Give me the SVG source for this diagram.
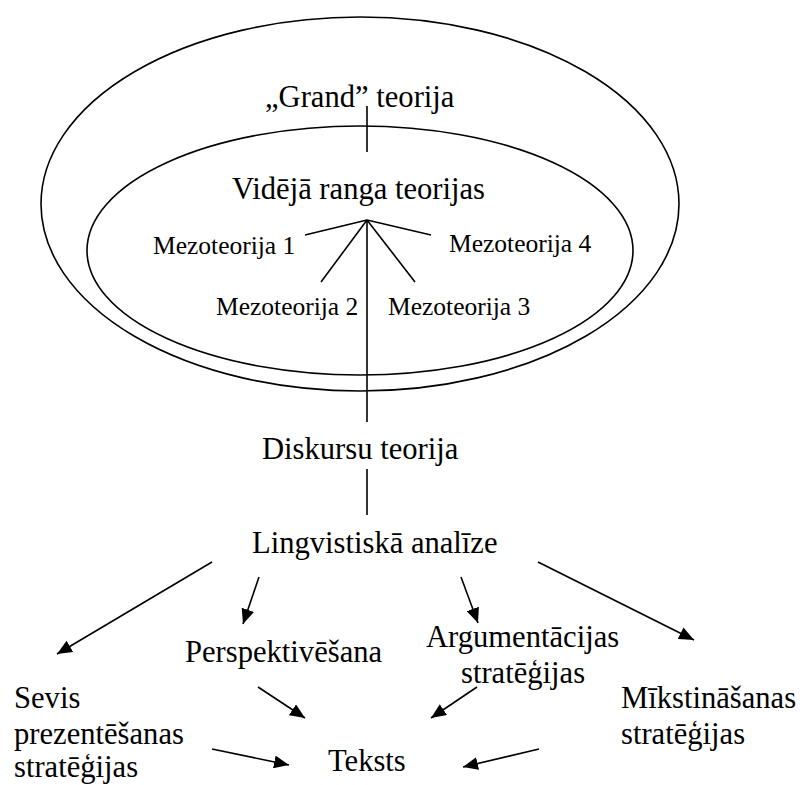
<svg xmlns="http://www.w3.org/2000/svg" width="800" height="785" viewBox="0 0 800 785">
  <defs>
    <marker id="arr" markerUnits="userSpaceOnUse" markerWidth="16" markerHeight="13" refX="15" refY="6.5" orient="auto">
      <path d="M0,0 L15,6.5 L0,13 z" fill="#000"/>
    </marker>
    <style>
      .t { font-family: "Liberation Serif", "Times New Roman", serif; fill: #000; }
      .big { font-size: 30.6px; }
      .small { font-size: 25.5px; }
      .ln { stroke: #000; stroke-width: 1.6; fill: none; }
      .ar { stroke: #000; stroke-width: 1.6; fill: none; marker-end: url(#arr); }
      .el { stroke: #000; stroke-width: 1.6; fill: none; }
    </style>
  </defs>
  <rect width="800" height="785" fill="#fff"/>

  <g id="grand-ellipse">
    <ellipse class="el" cx="360" cy="204" rx="319" ry="187"/>
  </g>
  <g id="middle-ellipse">
    <ellipse class="el" cx="360" cy="250.5" rx="273" ry="124.5"/>
  </g>

  <g id="connectors">
    <line class="ln" x1="367" y1="106" x2="367" y2="152"/>
    <line class="ln" x1="367" y1="220" x2="367" y2="422"/>
    <line class="ln" x1="367" y1="220" x2="305" y2="235"/>
    <line class="ln" x1="367" y1="220" x2="321" y2="282"/>
    <line class="ln" x1="367" y1="220" x2="431" y2="235"/>
    <line class="ln" x1="367" y1="220" x2="415" y2="282"/>
    <line class="ln" x1="367" y1="469" x2="367" y2="515"/>
    <line class="ar" x1="212" y1="562" x2="57" y2="654"/>
    <line class="ar" x1="259" y1="577" x2="243" y2="624"/>
    <line class="ar" x1="461" y1="577" x2="478" y2="623"/>
    <line class="ar" x1="538" y1="562" x2="694" y2="640"/>
    <line class="ar" x1="258" y1="687" x2="305" y2="718"/>
    <line class="ar" x1="477" y1="687" x2="431" y2="718"/>
    <line class="ar" x1="212" y1="749" x2="289" y2="765"/>
    <line class="ar" x1="539" y1="749" x2="463" y2="767"/>
  </g>

  <g id="grand">
    <text class="t big" x="265" y="107">„Grand” teorija</text>
  </g>
  <g id="videja">
    <text class="t big" x="232" y="199">Vidējā ranga teorijas</text>
  </g>
  <g id="mezo1">
    <text class="t small" x="153" y="254">Mezoteorija 1</text>
  </g>
  <g id="mezo4">
    <text class="t small" x="449" y="252">Mezoteorija 4</text>
  </g>
  <g id="mezo2">
    <text class="t small" x="216" y="315">Mezoteorija 2</text>
  </g>
  <g id="mezo3">
    <text class="t small" x="388" y="315">Mezoteorija 3</text>
  </g>
  <g id="diskursu">
    <text class="t big" x="262" y="459">Diskursu teorija</text>
  </g>
  <g id="lingvistiska">
    <text class="t big" x="252" y="553">Lingvistiskā analīze</text>
  </g>
  <g id="perspektivesana">
    <text class="t big" x="185" y="662">Perspektivēšana</text>
  </g>
  <g id="argumentacijas">
    <text class="t big" x="426" y="647">Argumentācijas</text>
    <text class="t big" x="461" y="683">stratēģijas</text>
  </g>
  <g id="sevis">
    <text class="t big" x="14" y="708">Sevis</text>
    <text class="t big" x="14" y="744">prezentēšanas</text>
    <text class="t big" x="14" y="777">stratēģijas</text>
  </g>
  <g id="mikstinasanas">
    <text class="t big" x="621" y="708">Mīkstināšanas</text>
    <text class="t big" x="621" y="744">stratēģijas</text>
  </g>
  <g id="teksts">
    <text class="t big" x="328" y="771">Teksts</text>
  </g>
</svg>
